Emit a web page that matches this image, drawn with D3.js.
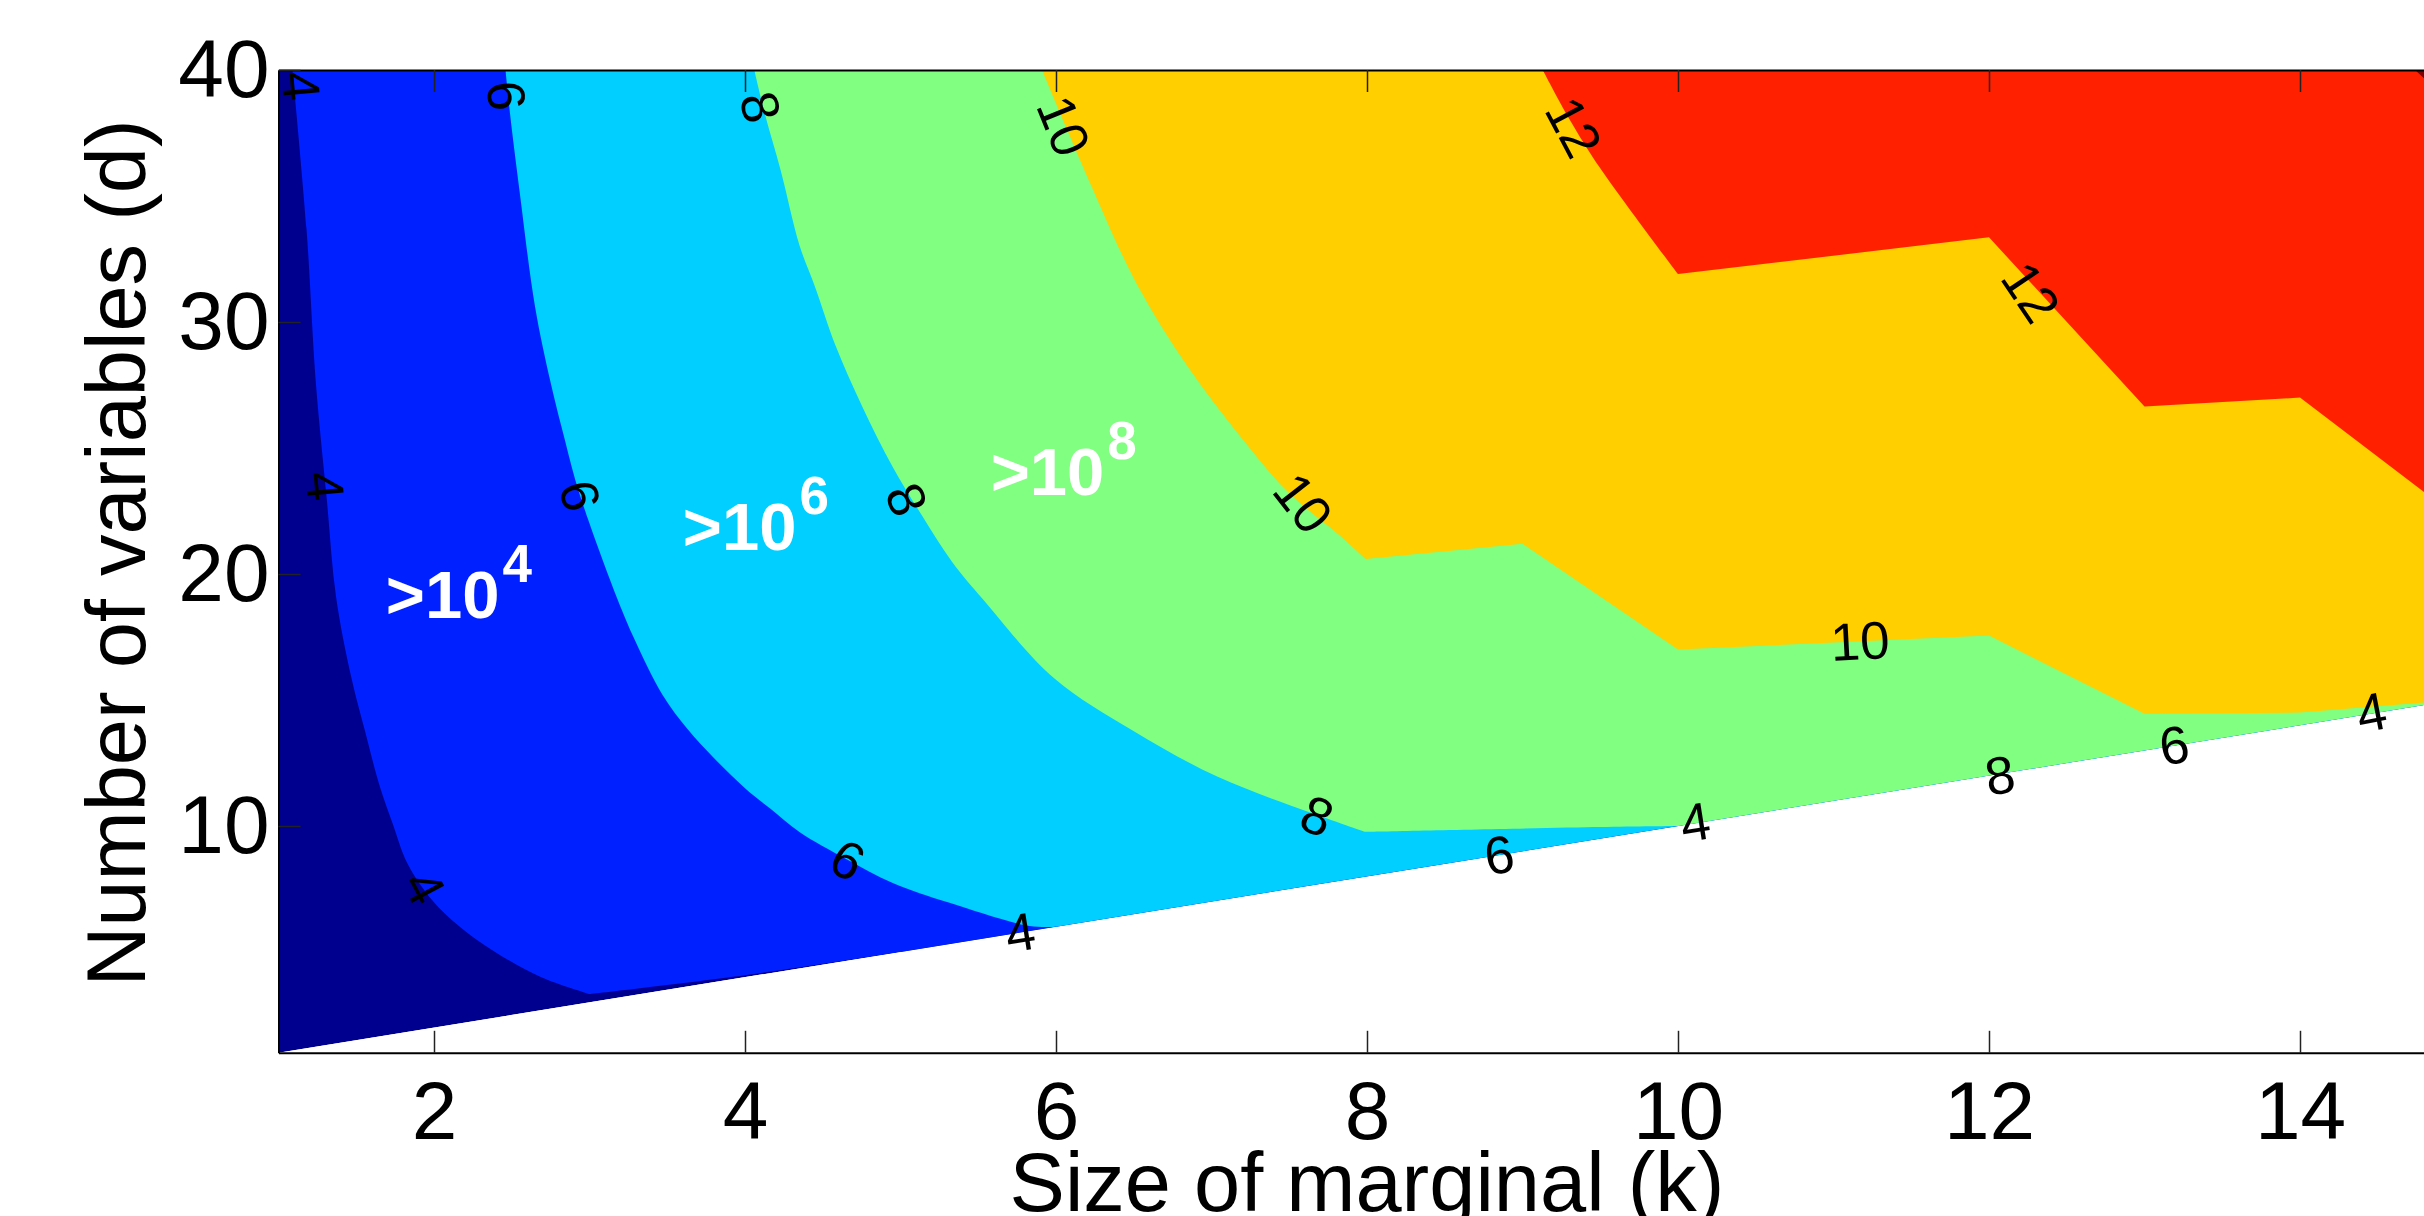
<!DOCTYPE html>
<html>
<head>
<meta charset="utf-8">
<script src="https://cdn.jsdelivr.net/npm/d3@7"></script>
<style>
  body { margin: 0; background: #fff; }
  svg { display: block; }
</style>
</head>
<body>
<svg id="chart"></svg>
<script>
// axis ticks
const kTicks = [2, 4, 6, 8, 10, 12, 14];
const dTicks = [10, 20, 30, 40];

// contour levels (log10) and the jet colours of the bands between them
const levels = [4, 6, 8, 10, 12, 14];
const bandColors = ["#00008F", "#0020FF", "#00CFFF", "#80FF80", "#FFCF00", "#FF2000", "#800000"];

// valid region: d >= k
const domainPoly = [[1, 1], [1, 40], [15, 40], [15, 15]];

// contour lines as [k, d], top edge first
const contour4 = [[1.09, 40], [1.18, 33.7], [1.24, 27.6], [1.31, 23.0], [1.37, 19.1], [1.47, 15.85],
  [1.555, 13.8], [1.65, 11.6], [1.735, 10.08], [1.83, 8.5], [1.99, 7.04], [2.16, 6.03], [2.39, 5.01],
  [2.69, 4.0], [3.0, 3.33], [4.0, 4.08], [5.0, 5.0]];
const contour6 = [[2.46, 40], [2.49, 38.2], [2.55, 35.2], [2.65, 30.6], [2.75, 27.6], [2.83, 25.6],
  [2.92, 23.5], [3.0, 22.0], [3.18, 19.0], [3.29, 17.4], [3.47, 15.2], [3.63, 13.85], [3.8, 12.7],
  [4.0, 11.5], [4.16, 10.7], [4.35, 9.76], [4.65, 8.69], [4.95, 7.74], [5.31, 6.96], [5.83, 6.03], [6.0, 6.0]];
const contour8 = [[4.06, 40], [4.13, 38.2], [4.23, 36.0], [4.35, 33.05], [4.45, 31.4], [4.58, 29.1],
  [4.75, 26.7], [4.95, 24.25], [5.14, 22.3], [5.33, 20.5], [5.53, 19.0], [5.99, 15.85], [6.49, 13.8],
  [7.04, 11.95], [7.63, 10.55], [7.99, 9.77], [9.5, 9.96], [10, 10]];
const contour10 = [[5.91, 40], [6.06, 37.8], [6.22, 35.5], [6.52, 31.5], [6.85, 28.2], [7.18, 25.5],
  [7.5, 23.2], [7.83, 21.5], [7.99, 20.6], [9.0, 21.2], [10.0, 17.0], [12.0, 17.56], [13.0, 14.45],
  [14.0, 14.5], [15, 15]];
const contour12 = [[9.13, 40], [9.3, 38.07], [9.5, 36.1], [10, 31.9], [12.0, 33.36], [13.0, 26.65],
  [14.0, 27.0], [15, 22.3]];
const contour14 = [[14.74, 40], [15, 38.5]];
const contours = [contour4, contour6, contour8, contour10, contour12, contour14];
// indices of sharp corners on each contour (the rest is smooth)
const corners = [[14], [], [15], [8, 9, 10, 11, 12, 13], [3, 4, 5, 6], []];

// inline contour labels: text, k, d, angle
const contourLabels = [
  ["4", 1.145, 39.37, 85], ["6", 2.467, 38.98, 84], ["8", 4.10, 38.53, 76],
  ["10", 6.05, 37.78, 68], ["12", 9.33, 37.74, 62],
  ["4", 1.30, 23.49, 85], ["6", 2.94, 23.11, 76], ["8", 5.04, 22.96, 68],
  ["10", 7.59, 22.82, 52], ["12", 12.27, 31.19, 56],
  ["4", 1.94, 7.58, 62], ["6", 4.66, 8.65, 29], ["8", 7.68, 10.40, 22],
  ["4", 5.77, 5.79, -9], ["6", 8.85, 8.85, -9], ["4", 10.11, 10.16, -9],
  ["10", 11.17, 17.34, -3], ["8", 12.07, 12.02, -9], ["6", 13.19, 13.21, -9],
  ["4", 14.46, 14.52, -11]
];

// white band annotations: exponent, k, d (baseline start)
const bandNotes = [["4", 1.69, 18.25], ["6", 3.60, 20.95], ["8", 5.58, 23.13]];

const FONT = '"Liberation Sans", Arial, Helvetica, sans-serif';
const width = 2424, height = 1216;

const svg = d3.select("#chart")
    .attr("width", width)
    .attr("height", height)

const x = d3.scaleLinear().domain([1, 15]).range([278.5, 2455.5]);
const y = d3.scaleLinear().domain([1, 40]).range([1052.8, 70]);

const line = d3.line().x(p => x(p[0])).y(p => y(p[1]));
const smooth = d3.line().x(p => x(p[0])).y(p => y(p[1])).curve(d3.curveCatmullRom.alpha(0.5));

// contour path: smooth between corners, sharp at the corners
function contourPath(pts, cornerIdx) {
  const cuts = [0].concat(cornerIdx, [pts.length - 1]);
  let d = "";
  for (let i = 0; i < cuts.length - 1; i++) {
    const piece = pts.slice(cuts[i], cuts[i + 1] + 1);
    if (piece.length < 2) continue;
    const s = smooth(piece);
    d += d === "" ? s : s.replace(/^M[^LC]*/, "");
  }
  return d;
}

svg.append("clipPath").attr("id", "dom")
  .append("path").attr("d", line(domainPoly) + "Z");

const plot = svg.append("g").attr("clip-path", "url(#dom)");

// lowest band fills the whole valid region
plot.append("path")
    .attr("d", line(domainPoly) + "Z")
    .attr("fill", bandColors[0]);

// each higher band = everything to the upper right of its contour
contours.forEach((c, i) => {
  const first = c[0], last = c[c.length - 1];
  const closing = [[last[0], -10], [20, -10], [20, 50], [first[0], 50]];
  const d = contourPath(c, corners[i]) + line(closing).replace(/^M/, "L") + "Z";
  plot.append("path")
      .attr("d", d)
      .attr("fill", bandColors[i + 1]);
});

// contour labels
svg.append("g").selectAll("text")
  .data(contourLabels)
  .enter().append("text")
    .attr("transform", d => `translate(${x(d[1])},${y(d[2])}) rotate(${d[3]})`)
    .attr("text-anchor", "middle")
    .attr("dy", "0.35em")
    .style("font-family", FONT)
    .style("font-size", "53px")
    .attr("fill", "#000")
    .text(d => d[0]);

// >10^n notes
const notes = svg.append("g").selectAll("text")
  .data(bandNotes)
  .enter().append("text")
    .attr("x", d => x(d[1]))
    .attr("y", d => y(d[2]))
    .style("font-family", FONT)
    .style("font-weight", "bold")
    .style("font-size", "67px")
    .attr("fill", "#fff");
notes.append("tspan").text(">10");
notes.append("tspan")
    .attr("dx", 3)
    .attr("dy", -36)
    .style("font-size", "53px")
    .text(d => d[0]);

// axes
function styleAxis(g) {
  g.attr("font-family", FONT).attr("font-size", 82).attr("color", "#000");
  g.select(".domain").attr("stroke-width", 2);
  g.selectAll(".tick line").attr("stroke-width", 1.5).attr("stroke", "#222");
  g.selectAll(".tick text").attr("fill", "#000");
}

svg.append("g")
    .attr("transform", `translate(0,${y(1)})`)
    .call(d3.axisBottom(x).tickValues(kTicks).tickSizeInner(-22).tickSizeOuter(0).tickPadding(28))
    .call(styleAxis);

svg.append("g")
    .attr("transform", `translate(0,${y(40)})`)
    .call(d3.axisTop(x).tickValues(kTicks).tickSizeInner(-22).tickSizeOuter(0).tickFormat(""))
    .call(styleAxis);

svg.append("g")
    .attr("transform", `translate(${x(1)},0)`)
    .call(d3.axisLeft(y).tickValues(dTicks).tickSizeInner(-22).tickSizeOuter(0).tickPadding(9))
    .call(styleAxis);

svg.append("g")
    .attr("transform", `translate(${x(15)},0)`)
    .call(d3.axisRight(y).tickValues(dTicks).tickSizeInner(-22).tickSizeOuter(0).tickFormat(""))
    .call(styleAxis);

// axis titles
svg.append("text")
    .attr("x", (x(1) + x(15)) / 2)
    .attr("y", 1211)
    .attr("text-anchor", "middle")
    .style("font-family", FONT)
    .style("font-size", "83px")
    .text("Size of marginal (k)");

svg.append("text")
    .attr("transform", `translate(145,553) rotate(-90)`)
    .attr("text-anchor", "middle")
    .style("font-family", FONT)
    .style("font-size", "83px")
    .text("Number of variables (d)");
</script>
</body>
</html>
